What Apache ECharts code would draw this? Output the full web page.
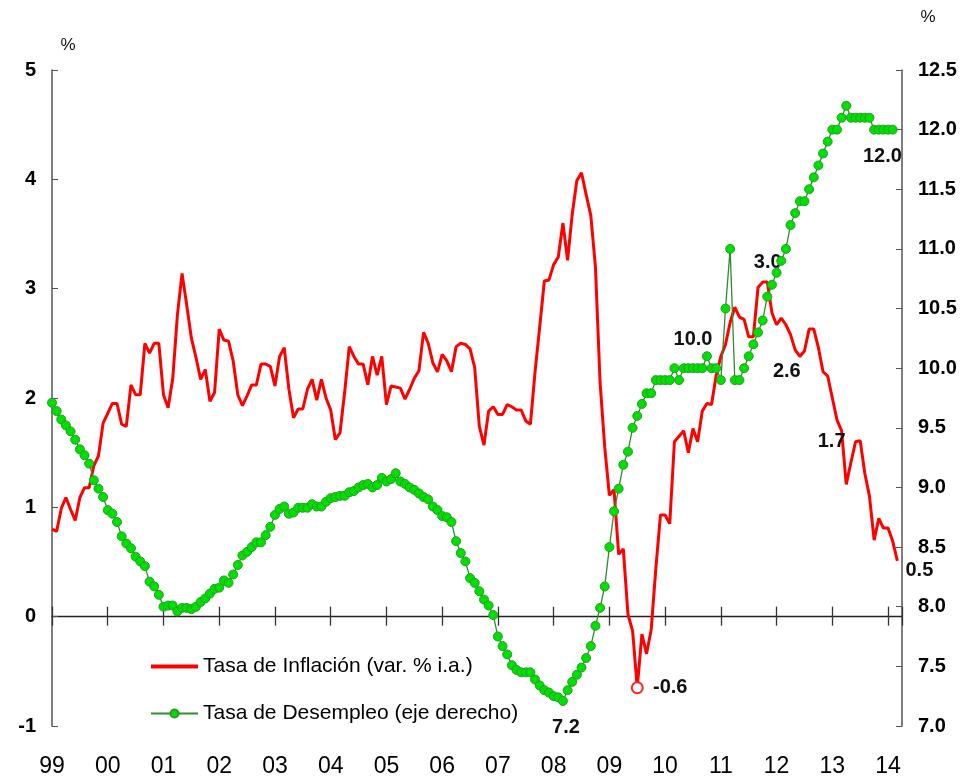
<!DOCTYPE html>
<html>
<head>
<meta charset="utf-8">
<script src="https://cdn.jsdelivr.net/npm/echarts@6/dist/echarts.min.js"></script>
<style>
	html, body { margin: 0; padding: 0; background: #fff; }
	#chart { width: 965px; height: 776px; }
</style>
</head>
<body>
<div id="chart"></div>
<script>
// monthly, Jan 1999 .. Mar 2014 (x = month index from Jan 1999)
const yearLabels = ['99', '00', '01', '02', '03', '04', '05', '06', '07', '08', '09', '10', '11', '12', '13', '14']

const inflation = [
	0.80, 0.78, 0.99, 1.09, 0.98, 0.88, 1.09, 1.18, 1.18, 1.38, 1.47, 1.77,
	1.86, 1.95, 1.95, 1.76, 1.74, 2.12, 2.03, 2.03, 2.50, 2.41, 2.50, 2.50,
	2.03, 1.91, 2.18, 2.76, 3.14, 2.85, 2.55, 2.37, 2.17, 2.26, 1.97, 2.05,
	2.63, 2.53, 2.52, 2.34, 2.03, 1.93, 2.02, 2.12, 2.12, 2.31, 2.31, 2.29,
	2.11, 2.38, 2.46, 2.08, 1.82, 1.90, 1.90, 2.08, 2.17, 1.98, 2.17, 2.00,
	1.89, 1.62, 1.68, 2.05, 2.47, 2.38, 2.31, 2.31, 2.12, 2.38, 2.21, 2.38,
	1.94, 2.11, 2.10, 2.09, 1.99, 2.08, 2.18, 2.25, 2.60, 2.50, 2.32, 2.24,
	2.40, 2.34, 2.24, 2.47, 2.50, 2.49, 2.45, 2.28, 1.74, 1.57, 1.88, 1.92,
	1.85, 1.85, 1.94, 1.92, 1.89, 1.89, 1.79, 1.76, 2.24, 2.65, 3.07, 3.08,
	3.22, 3.29, 3.60, 3.26, 3.68, 3.99, 4.06, 3.86, 3.67, 3.20, 2.14, 1.55,
	1.11, 1.16, 0.57, 0.62, 0.02, -0.13, -0.65, -0.16, -0.34, -0.12, 0.44, 0.93,
	0.93, 0.85, 1.60, 1.65, 1.70, 1.50, 1.72, 1.60, 1.88, 1.95, 1.94, 2.21,
	2.38, 2.49, 2.69, 2.83, 2.74, 2.72, 2.56, 2.56, 3.01, 3.06, 3.06, 2.78,
	2.67, 2.73, 2.67, 2.58, 2.44, 2.38, 2.43, 2.63, 2.63, 2.46, 2.24, 2.20,
	2.00, 1.80, 1.70, 1.21, 1.41, 1.60, 1.61, 1.31, 1.10, 0.70, 0.90, 0.81,
	0.81, 0.69, 0.51,
]

const unemployment = [
	9.71, 9.64, 9.57, 9.52, 9.47, 9.40, 9.32, 9.27, 9.20, 9.06, 8.99, 8.92,
	8.81, 8.78, 8.71, 8.59, 8.53, 8.49, 8.42, 8.38, 8.34, 8.21, 8.17, 8.10,
	8.00, 8.01, 8.01, 7.96, 7.99, 7.99, 7.98, 8.00, 8.04, 8.07, 8.11, 8.15,
	8.16, 8.22, 8.20, 8.27, 8.35, 8.43, 8.46, 8.50, 8.54, 8.54, 8.60, 8.67,
	8.77, 8.82, 8.84, 8.78, 8.79, 8.83, 8.83, 8.83, 8.86, 8.84, 8.84, 8.88,
	8.91, 8.92, 8.93, 8.93, 8.96, 8.97, 9.00, 9.02, 9.03, 9.00, 9.02, 9.08,
	9.05, 9.07, 9.12, 9.05, 9.03, 9.00, 8.98, 8.95, 8.92, 8.90, 8.84, 8.81,
	8.76, 8.75, 8.71, 8.55, 8.45, 8.38, 8.24, 8.20, 8.13, 8.06, 8.01, 7.93,
	7.75, 7.67, 7.60, 7.51, 7.47, 7.45, 7.45, 7.45, 7.39, 7.34, 7.30, 7.28,
	7.25, 7.24, 7.21, 7.30, 7.37, 7.43, 7.49, 7.57, 7.67, 7.84, 7.99, 8.17,
	8.50, 8.80, 8.99, 9.19, 9.30, 9.50, 9.60, 9.70, 9.79, 9.79, 9.90, 9.90,
	9.90, 9.90, 10.0, 9.90, 10.0, 10.0, 10.0, 10.0, 10.0, 10.1, 10.0, 10.0,
	9.90, 10.5, 11.0, 9.90, 9.90, 10.0, 10.1, 10.2, 10.3, 10.4, 10.6, 10.7,
	10.8, 10.9, 11.0, 11.2, 11.3, 11.4, 11.4, 11.5, 11.6, 11.7, 11.8, 11.9,
	12.0, 12.0, 12.1, 12.2, 12.1, 12.1, 12.1, 12.1, 12.1, 12.0, 12.0, 12.0,
	12.0, 12.0,
]

// annotated points: month index -> text
const inflationNotes = { 126: '-0.6', 153: '3.0', 161: '2.6', 170: '1.7', 182: '0.5' }
const unemploymentNotes = { 110: '7.2', 138: '10.0', 179: '12.0' }

// label offsets (px from the point)
const noteOffsets = {
	inf126: [33, 0], inf153: [5, -20], inf161: [-13, 15], inf170: [-10, 11], inf182: [22, 10],
	un110: [3, 27], un138: [0, -29], un179: [-1, 27],
}

const sans = '"Liberation Sans", Arial, sans-serif'

const noteLabel = (text, offset) => ({
	show: true,
	formatter: text,
	position: 'inside',
	offset: offset,
	fontSize: 20,
	fontWeight: 'bold',
	fontFamily: sans,
	color: '#111',
})

const inflationData = inflation.map((v, i) => {
	if (inflationNotes[i] === undefined) {
		return [i, v]
	}
	const item = {
		value: [i, v],
		symbol: 'circle',
		symbolSize: 0.01,
		label: noteLabel(inflationNotes[i], noteOffsets['inf' + i]),
	}
	if (i === 126) {
		item.symbol = 'emptyCircle'
		item.symbolSize = 11
		item.itemStyle = { color: '#ff2020', borderWidth: 1 }
	}
	return item
})

const unemploymentData = unemployment.map((v, i) => {
	if (unemploymentNotes[i] === undefined) {
		return [i, v]
	}
	return {
		value: [i, v],
		label: noteLabel(unemploymentNotes[i], noteOffsets['un' + i]),
	}
})

const axisLabelStyle = {
	fontSize: 20,
	fontWeight: 'bold',
	fontFamily: sans,
	color: '#000',
}

// three x axes on the same scale: line + lower ticks, upper ticks, year labels at the bottom
const monthAxis = {
	type: 'value',
	min: 0,
	max: 183,
	interval: 12,
	position: 'bottom',
	splitLine: { show: false },
}

const chart = echarts.init(document.getElementById('chart'))
chart.setOption({
	animation: false,
	backgroundColor: '#fff',
	grid: {
		left: 52,
		right: 63,
		top: 70,
		bottom: 50,
		containLabel: false,
		outerBoundsMode: 'none',
	},
	legend: {
		orient: 'vertical',
		left: 145,
		top: 651,
		itemWidth: 47,
		itemHeight: 10,
		itemGap: 26,
		textStyle: {
			fontSize: 21,
			fontFamily: sans,
			color: '#000',
		},
		data: [
			{ name: 'Tasa de Inflación (var. % i.a.)', icon: 'path://M0,0h47v4h-47z', itemStyle: { color: '#ff0000' } },
			{ name: 'Tasa de Desempleo (eje derecho)' },
		],
	},
	xAxis: [
		{
			...monthAxis,
			axisLine: { onZero: true, onZeroAxisIndex: 0, lineStyle: { color: '#222', width: 1.3 } },
			axisTick: { show: true, inside: false, length: 9, lineStyle: { color: '#333', width: 1.3 } },
			axisLabel: { show: false },
		},
		{
			...monthAxis,
			axisLine: { show: false, onZero: true, onZeroAxisIndex: 0 },
			axisTick: { show: true, inside: true, length: 10, lineStyle: { color: '#333', width: 1.3 } },
			axisLabel: { show: false },
		},
		{
			...monthAxis,
			axisLine: { show: false, onZero: false },
			axisTick: { show: false },
			axisLabel: {
				margin: 29,
				fontSize: 23,
				fontFamily: sans,
				color: '#000',
				showMaxLabel: false,
				formatter: (v) => (v % 12 === 0 ? yearLabels[v / 12] : ''),
			},
		},
	],
	yAxis: [
		{
			type: 'value',
			min: -1,
			max: 5,
			interval: 1,
			position: 'left',
			name: '%',
			nameLocation: 'end',
			nameGap: 16,
			nameTextStyle: { fontSize: 17, fontFamily: sans, color: '#111', padding: [0, 0, 0, 32] },
			axisLine: { show: true, onZero: false, lineStyle: { color: '#555', width: 1.5 } },
			axisTick: { show: true, inside: true, length: 6, lineStyle: { color: '#555' } },
			splitLine: { show: false },
			axisLabel: { ...axisLabelStyle, margin: 16 },
		},
		{
			type: 'value',
			min: 7,
			max: 12.5,
			interval: 0.5,
			position: 'right',
			name: '%',
			nameLocation: 'end',
			nameGap: 44,
			nameTextStyle: { fontSize: 17, fontFamily: sans, color: '#111', padding: [0, 0, 0, 52] },
			axisLine: { show: true, onZero: false, lineStyle: { color: '#555', width: 1.5 } },
			axisTick: { show: true, inside: true, length: 6, lineStyle: { color: '#555' } },
			splitLine: { show: false },
			axisLabel: { ...axisLabelStyle, margin: 16, formatter: (v) => v.toFixed(1) },
		},
	],
	series: [
		{
			name: 'Tasa de Inflación (var. % i.a.)',
			type: 'line',
			xAxisIndex: 0,
			yAxisIndex: 0,
			data: inflationData,
			symbol: 'none',
			lineStyle: { color: '#ff0000', width: 3 },
			itemStyle: { color: '#ff0000' },
			z: 2,
		},
		{
			name: 'Tasa de Desempleo (eje derecho)',
			type: 'line',
			xAxisIndex: 0,
			yAxisIndex: 1,
			data: unemploymentData,
			symbol: 'circle',
			symbolSize: 9,
			lineStyle: { color: '#2e8b2e', width: 1.3 },
			itemStyle: { color: '#00e000', borderColor: '#2a9a2a', borderWidth: 1 },
			z: 3,
		},
	],
})
</script>
</body>
</html>
